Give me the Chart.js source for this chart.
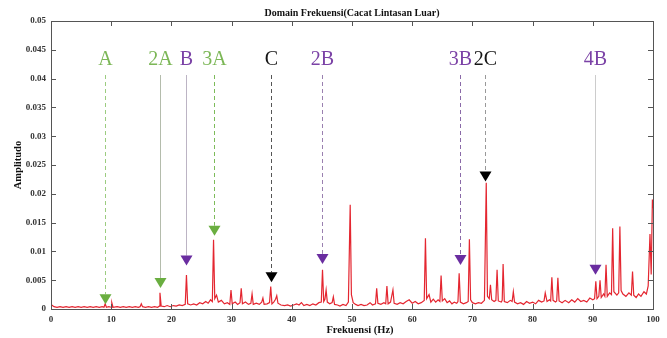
<!DOCTYPE html>
<html><head><meta charset="utf-8">
<script src="https://cdn.jsdelivr.net/npm/chart.js@4/dist/chart.umd.min.js"></script>
<style>html,body{margin:0;padding:0;background:#fff;}canvas{display:block;}</style>
</head><body>
<canvas id="c" width="667" height="338"></canvas>
<script>
// ---- data ----
const chartTitle = "Domain Frekuensi(Cacat Lintasan Luar)";
const xTitle = "Frekuensi (Hz)";
const yTitle = "Amplitudo";
const xTicks = [0,10,20,30,40,50,60,70,80,90,100];
const yTicks = [0,0.005,0.01,0.015,0.02,0.025,0.03,0.035,0.04,0.045,0.05];

const freqHz = [0,0.5,1,1.5,2,2.5,3,3.5,4,4.5,5,5.5,6,6.5,7,7.5,8,8.5,8.8,9,9.2,9.6,10,10.1,10.3,11,11.5,12,12.5,13,13.5,14,14.5,14.8,15,15.2,15.7,16.2,16.7,17.2,17.7,18,18.1,18.3,18.8,19.3,19.8,20.3,20.8,21.3,21.8,22.3,22.5,22.7,23.2,23.7,24.2,24.7,25.2,25.7,26.1,26.5,26.8,27,27.2,27.5,27.8,28.3,28.8,29.3,29.7,29.9,30.1,30.6,31,31.4,31.6,31.8,32.3,32.8,33.2,33.4,33.6,34.1,34.6,35,35.2,35.4,35.9,36.3,36.5,36.7,37,37.3,37.5,37.7,38.2,38.8,39.3,39.8,40.3,40.8,41.2,41.6,42,42.5,43,43.5,44,44.5,44.9,45.1,45.3,45.5,45.7,45.9,46.3,46.7,46.9,47.1,47.6,48,48.5,49,49.4,49.7,49.9,50.2,50.6,51,51.5,52,52.5,53,53.4,53.9,54.1,54.3,54.8,55.3,55.6,55.8,56,56.4,56.8,57,57.5,58,58.5,59,59.5,60,60.5,61,61.5,62,62.2,62.4,62.8,63.1,63.5,63.9,64.3,64.6,64.8,65,65.4,65.8,66.2,66.6,67,67.4,67.6,67.8,68,68.5,69,69.3,69.5,69.7,70,70.5,71,71.5,72,72.3,72.5,72.8,73,73.2,73.6,73.9,74.1,74.3,74.8,74.95,75.1,75.3,75.8,76.3,76.6,76.8,77,77.5,78,78.5,79,79.5,80,80.5,81,81.5,81.9,82.1,82.4,82.8,83,83.2,83.4,83.8,84,84.2,84.4,84.9,85.4,86,86.5,87,87.5,88,88.5,89,89.5,90,90.3,90.5,90.7,91,91.2,91.4,91.8,92,92.2,92.4,92.8,93.1,93.3,93.5,94,94.3,94.5,94.7,95,95.5,96,96.4,96.6,96.8,97.2,97.6,98,98.5,98.9,99.2,99.5,99.7,99.9,100];
const amplitude = [0.0008,0.0004,0.0003,0.0004,0.0003,0.0004,0.0003,0.0004,0.0003,0.0004,0.0003,0.0004,0.0003,0.0004,0.0003,0.0004,0.0003,0.0004,0.0003,0.0009,0.0003,0.0004,0.0003,0.0011,0.0003,0.0004,0.0003,0.0004,0.0003,0.0004,0.0003,0.0004,0.0003,0.0004,0.0009,0.0004,0.0003,0.0004,0.0003,0.0004,0.0003,0.0005,0.0028,0.0005,0.0004,0.0006,0.0004,0.0006,0.0005,0.0007,0.0006,0.0008,0.0059,0.0009,0.0007,0.0009,0.0007,0.0011,0.0009,0.0013,0.001,0.0016,0.0013,0.012,0.0018,0.0024,0.0012,0.0015,0.0009,0.0011,0.0008,0.0033,0.0009,0.0012,0.0008,0.0011,0.0036,0.0009,0.0012,0.0008,0.001,0.0026,0.0008,0.001,0.0008,0.0012,0.0019,0.0008,0.0009,0.0011,0.0039,0.0009,0.0012,0.0017,0.0023,0.001,0.0007,0.0006,0.0007,0.0005,0.0007,0.0009,0.0007,0.0011,0.0006,0.0008,0.0006,0.0009,0.0007,0.0011,0.0012,0.0068,0.0013,0.0017,0.0033,0.0012,0.0009,0.0011,0.0021,0.0008,0.0007,0.0005,0.0008,0.0006,0.0012,0.0181,0.0025,0.0011,0.0008,0.0006,0.0008,0.0006,0.0007,0.0011,0.0007,0.0009,0.0036,0.001,0.0008,0.0011,0.0009,0.004,0.0009,0.0012,0.0033,0.001,0.0008,0.0011,0.0009,0.0013,0.0016,0.001,0.0013,0.0009,0.0011,0.0015,0.0123,0.0018,0.0025,0.0012,0.0017,0.0012,0.0016,0.0013,0.0058,0.0014,0.0018,0.0011,0.0014,0.0009,0.0012,0.001,0.0013,0.0062,0.0012,0.0009,0.0011,0.0013,0.0121,0.0016,0.0011,0.0009,0.0011,0.001,0.0015,0.0219,0.0022,0.0018,0.0042,0.0016,0.0013,0.0015,0.0068,0.0014,0.0012,0.0015,0.0078,0.0013,0.0011,0.0015,0.0013,0.003,0.0012,0.0009,0.0011,0.0008,0.0013,0.001,0.0012,0.0009,0.0015,0.0012,0.0014,0.0028,0.0013,0.0016,0.0014,0.0055,0.0015,0.0012,0.0014,0.0054,0.0014,0.0011,0.0015,0.0011,0.0016,0.0012,0.0018,0.0013,0.0015,0.0012,0.0019,0.0016,0.0018,0.0048,0.0018,0.0022,0.005,0.002,0.0026,0.0022,0.0077,0.0022,0.0028,0.0025,0.014,0.003,0.0024,0.0028,0.0143,0.0032,0.0026,0.0022,0.0028,0.0024,0.0065,0.0024,0.002,0.0026,0.0022,0.003,0.0026,0.004,0.013,0.006,0.019,0.0175];

// fault-frequency markers
const markerLabels = ["A","2A","B","3A","C","2B","3B","2C","4B"];
const markerFreq   = [9.0,18.15,22.5,27.0,36.6,45.05,67.9,72.1,90.4];
const markerAmp    = [0.0017,0.0045,0.0084,0.0136,0.0055,0.0087,0.0085,0.023,0.0068];

// ---- styles ----
const GREEN = "#7cb757", PURPLE = "#7b42a6", BLACK = "#161616";
const markerTextColor = [GREEN,GREEN,PURPLE,GREEN,BLACK,PURPLE,PURPLE,BLACK,PURPLE];
const markerTriColor  = ["#6aae40","#6aae40","#6a2da0","#6aae40","#000000","#6a2da0","#6a2da0","#000000","#6a2da0"];
const markerLineColor = ["#9ccc80","#b4bcac","#bcb4c4","#7dbb5a","#555555","#9a80b0","#8a6aa8","#999999","#cccccc"];
const markerDashed    = [true,false,false,true,true,true,true,true,false];

const serif = "'Liberation Serif','Times New Roman',serif";

const decor = {
  id: 'decor',
  afterDatasetsDraw(chart) {
    const {ctx, scales: {x, y}} = chart;
    ctx.save();
    for (let i = 0; i < markerLabels.length; i++) {
      const px = Math.round(x.getPixelForValue(markerFreq[i])) + 0.5;
      const py = y.getPixelForValue(markerAmp[i]);
      ctx.strokeStyle = markerLineColor[i];
      ctx.lineWidth = 1;
      ctx.setLineDash(markerDashed[i] ? [4, 3] : []);
      ctx.beginPath(); ctx.moveTo(px, 75); ctx.lineTo(px, py - 5); ctx.stroke();
      ctx.setLineDash([]);
      ctx.fillStyle = markerTriColor[i];
      ctx.beginPath();
      ctx.moveTo(px - 6, py - 5); ctx.lineTo(px + 6, py - 5); ctx.lineTo(px, py + 5);
      ctx.closePath(); ctx.fill();
      ctx.fillStyle = markerTextColor[i];
      ctx.font = "20px " + serif;
      ctx.textAlign = 'center'; ctx.textBaseline = 'middle';
      ctx.fillText(markerLabels[i], px, 60);
    }
    ctx.restore();
  },
  afterDraw(chart) {
    const {ctx, chartArea: a, scales: {x, y}} = chart;
    ctx.save();
    ctx.strokeStyle = '#555';
    ctx.lineWidth = 1;
    ctx.strokeRect(Math.round(a.left) + 0.5, Math.round(a.top) + 0.5, Math.round(a.right - a.left), Math.round(a.bottom - a.top));
    ctx.beginPath();
    xTicks.forEach(v => {
      const px = Math.round(x.getPixelForValue(v)) + 0.5;
      ctx.moveTo(px, a.bottom); ctx.lineTo(px, a.bottom - 5);
      ctx.moveTo(px, a.top); ctx.lineTo(px, a.top + 5);
    });
    yTicks.forEach(v => {
      const py = Math.round(y.getPixelForValue(v)) + 0.5;
      ctx.moveTo(a.left, py); ctx.lineTo(a.left + 5, py);
      ctx.moveTo(a.right, py); ctx.lineTo(a.right - 5, py);
    });
    ctx.stroke();
    ctx.fillStyle = '#111';
    ctx.textAlign = 'center'; ctx.textBaseline = 'middle';
    ctx.font = "bold 10px " + serif;
    ctx.fillText(chartTitle, 352, 13);
    ctx.font = "bold 10.5px " + serif;
    ctx.fillText(xTitle, 360, 330);
    ctx.translate(18, 165); ctx.rotate(-Math.PI / 2);
    ctx.fillText(yTitle, 0, 0);
    ctx.restore();
  }
};

new Chart(document.getElementById('c'), {
  type: 'scatter',
  data: {
    datasets: [{
      data: freqHz.map((f, i) => ({x: f, y: amplitude[i]})),
      showLine: true,
      borderColor: 'rgb(228,38,48)',
      borderWidth: 1.2,
      pointRadius: 0,
      tension: 0
    }]
  },
  options: {
    responsive: false,
    devicePixelRatio: 1,
    animation: false,
    layout: {padding: {top: 21, right: 14, left: 0, bottom: 0}},
    plugins: {legend: {display: false}, tooltip: {enabled: false}, title: {display: false}},
    scales: {
      x: {
        type: 'linear', min: 0, max: 100,
        afterBuildTicks: s => { s.ticks = xTicks.map(v => ({value: v})); },
        afterFit: s => { s.height = 29; },
        ticks: {font: {family: serif, size: 9, weight: 'bold'}, color: '#333', padding: 5, maxRotation: 0},
        grid: {display: false, drawTicks: false},
        border: {display: false}
      },
      y: {
        type: 'linear', min: 0, max: 0.05,
        afterBuildTicks: s => { s.ticks = yTicks.map(v => ({value: v})); },
        afterFit: s => { s.width = 51; },
        ticks: {font: {family: serif, size: 9, weight: 'bold'}, color: '#333', padding: 5,
                callback: v => String(+v.toFixed(3))},
        grid: {display: false, drawTicks: false},
        border: {display: false}
      }
    }
  },
  plugins: [decor]
});
</script>
</body></html>
